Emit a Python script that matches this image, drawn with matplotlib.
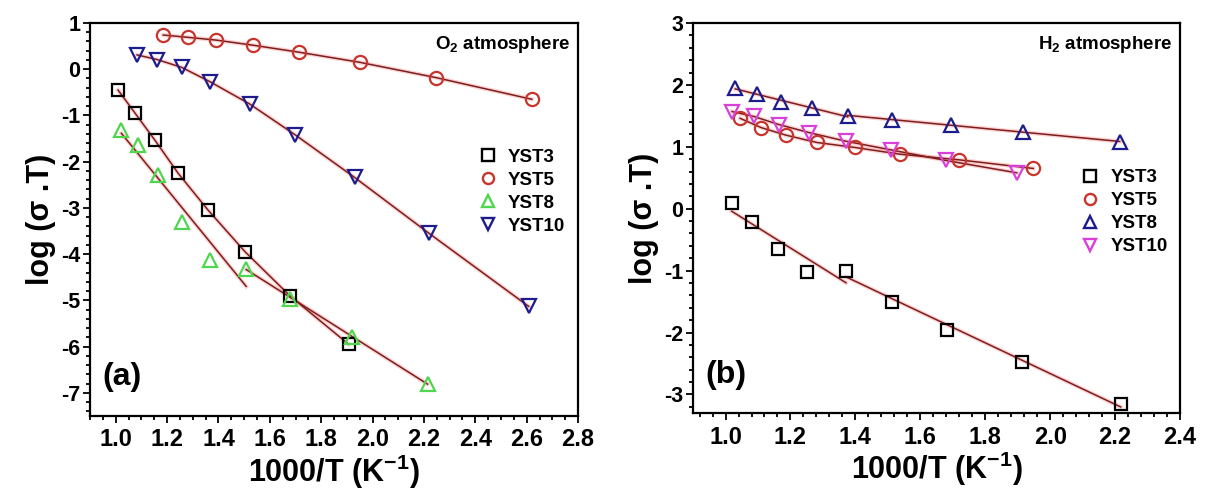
import matplotlib

matplotlib.use("Agg")
import matplotlib.pyplot as plt
import numpy as np
from matplotlib.lines import Line2D
from matplotlib.ticker import MultipleLocator

plt.rcParams["font.family"] = ["Liberation Sans", "DejaVu Sans"]
plt.rcParams["font.weight"] = "bold"
plt.rcParams["axes.labelweight"] = "bold"
plt.rcParams["axes.unicode_minus"] = False
plt.rcParams["mathtext.fontset"] = "custom"
plt.rcParams["mathtext.rm"] = "Liberation Sans:bold"
plt.rcParams["mathtext.bf"] = "Liberation Sans:bold"
plt.rcParams["mathtext.default"] = "bf"

# (a) O2 atmosphere
o2_yst3_x = [1.009, 1.074, 1.152, 1.243, 1.360, 1.504, 1.680, 1.907]
o2_yst3_y = [-0.45, -0.94, -1.53, -2.25, -3.05, -3.95, -4.91, -5.95]
o2_yst5_x = [1.185, 1.282, 1.391, 1.534, 1.712, 1.950, 2.246, 2.620]
o2_yst5_y = [0.74, 0.69, 0.63, 0.52, 0.37, 0.15, -0.18, -0.65]
o2_yst8_x = [1.022, 1.087, 1.165, 1.257, 1.367, 1.508, 1.680, 1.921, 2.214]
o2_yst8_y = [-1.32, -1.64, -2.29, -3.30, -4.13, -4.31, -4.96, -5.79, -6.80]
o2_yst10_x = [1.083, 1.161, 1.257, 1.367, 1.521, 1.699, 1.930, 2.220, 2.608]
o2_yst10_y = [0.31, 0.21, 0.04, -0.27, -0.75, -1.42, -2.34, -3.55, -5.13]

# (b) H2 atmosphere
h2_yst3_x = [1.019, 1.080, 1.161, 1.252, 1.371, 1.512, 1.683, 1.914, 2.217]
h2_yst3_y = [0.10, -0.22, -0.65, -1.02, -1.00, -1.50, -1.96, -2.47, -3.15]
h2_yst5_x = [1.045, 1.110, 1.185, 1.281, 1.398, 1.538, 1.719, 1.948]
h2_yst5_y = [1.46, 1.31, 1.19, 1.07, 0.99, 0.88, 0.79, 0.65]
h2_yst8_x = [1.030, 1.097, 1.172, 1.265, 1.376, 1.513, 1.693, 1.916, 2.214]
h2_yst8_y = [1.95, 1.85, 1.73, 1.62, 1.50, 1.44, 1.36, 1.24, 1.08]
h2_yst10_x = [1.020, 1.087, 1.164, 1.257, 1.371, 1.510, 1.678, 1.897]
h2_yst10_y = [1.57, 1.49, 1.36, 1.23, 1.09, 0.95, 0.78, 0.58]

labels = ["YST3", "YST5", "YST8", "YST10"]

LINE = "#7a1f1f"


def draw_line(ax, x, y):
    ax.plot(x, y, color="#ff3030", lw=3, alpha=0.22, zorder=2)
    ax.plot(x, y, color=LINE, lw=1.1, zorder=3)


def fit_segment(ax, x, y, i0, i1):
    xs = np.asarray(x[i0:i1])
    ys = np.asarray(y[i0:i1])
    k, b = np.polyfit(xs, ys, 1)
    xx = np.array([xs[0], xs[-1]])
    draw_line(ax, xx, k * xx + b)


def points(ax, x, y, marker, color, size):
    ax.plot(x, y, linestyle="none", marker=marker, ms=size, mfc="none",
            mec=color, mew=1.6, zorder=4)


def style_axes(ax, xlim, ylim, xminor, tag, atmos):
    ax.set_xlim(*xlim)
    ax.set_ylim(*ylim)
    ax.xaxis.set_major_locator(MultipleLocator(0.2))
    ax.xaxis.set_minor_locator(MultipleLocator(xminor))
    ax.yaxis.set_major_locator(MultipleLocator(1))
    ax.yaxis.set_minor_locator(MultipleLocator(0.2))
    ax.xaxis.set_major_formatter(plt.FormatStrFormatter("%.1f"))
    ax.tick_params(which="both", direction="out", top=False, right=False,
                   width=1.3)
    ax.tick_params(axis="x", labelsize=17, pad=4)
    ax.tick_params(axis="y", labelsize=15.5, pad=2)
    ax.tick_params(which="major", length=5)
    ax.tick_params(which="minor", length=3)
    for s in ax.spines.values():
        s.set_linewidth(1.6)
    ax.set_xlabel("1000/T (K$^{-1}$)", fontsize=22, fontweight="bold",
                  labelpad=1)
    ax.set_ylabel("log (σ .T)", fontsize=22, fontweight="bold", labelpad=4)
    ax.text(0.025, 0.06, tag, transform=ax.transAxes, fontsize=23,
            fontweight="bold", ha="left", va="bottom")
    ax.text(0.985, 0.945, atmos, transform=ax.transAxes, fontsize=13.5,
            fontweight="bold", ha="right", va="center")


def legend(ax, styles, anchor):
    handles = [Line2D([], [], linestyle="none", marker=m, ms=8, mfc="none",
                      mec=c, mew=1.7) for m, c in styles]
    leg = ax.legend(handles, labels, loc="upper left", bbox_to_anchor=anchor,
                    frameon=False, fontsize=13.5, handlelength=1.0,
                    handletextpad=0.6, labelspacing=0.32, borderaxespad=0)
    for t in leg.get_texts():
        t.set_fontweight("bold")


fig = plt.figure(figsize=(12.07, 5.0), dpi=100)
ax1 = fig.add_axes([0.0746, 0.168, 0.4043, 0.786])
ax2 = fig.add_axes([0.5742, 0.174, 0.4035, 0.780])

# panel (a)
draw_line(ax1, o2_yst3_x, o2_yst3_y)
draw_line(ax1, o2_yst5_x, o2_yst5_y)
draw_line(ax1, o2_yst10_x, o2_yst10_y)
fit_segment(ax1, o2_yst8_x, o2_yst8_y, 0, 6)
fit_segment(ax1, o2_yst8_x, o2_yst8_y, 5, 9)
styles_a = [("s", "black"), ("o", "#c9352c"), ("^", "#4fd64f"), ("v", "#1c1c8c")]
points(ax1, o2_yst3_x, o2_yst3_y, "s", styles_a[0][1], 8.5)
points(ax1, o2_yst5_x, o2_yst5_y, "o", styles_a[1][1], 9.5)
points(ax1, o2_yst8_x, o2_yst8_y, "^", styles_a[2][1], 10)
points(ax1, o2_yst10_x, o2_yst10_y, "v", styles_a[3][1], 10)
style_axes(ax1, (0.9, 2.8), (-7.5, 1), 0.05, "(a)", "O$_2$ atmosphere")
legend(ax1, styles_a, (0.78, 0.70))

# panel (b)
fit_segment(ax2, h2_yst3_x, h2_yst3_y, 0, 5)
fit_segment(ax2, h2_yst3_x, h2_yst3_y, 4, 9)
draw_line(ax2, h2_yst5_x, h2_yst5_y)
draw_line(ax2, h2_yst10_x, h2_yst10_y)
fit_segment(ax2, h2_yst8_x, h2_yst8_y, 0, 5)
fit_segment(ax2, h2_yst8_x, h2_yst8_y, 4, 9)
styles_b = [("s", "black"), ("o", "#c9352c"), ("^", "#1c1c8c"), ("v", "#d940d9")]
points(ax2, h2_yst3_x, h2_yst3_y, "s", styles_b[0][1], 8.5)
points(ax2, h2_yst5_x, h2_yst5_y, "o", styles_b[1][1], 9.5)
points(ax2, h2_yst8_x, h2_yst8_y, "^", styles_b[2][1], 10)
points(ax2, h2_yst10_x, h2_yst10_y, "v", styles_b[3][1], 10)
style_axes(ax2, (0.9, 2.4), (-3.3, 3), 0.04, "(b)", "H$_2$ atmosphere")
legend(ax2, styles_b, (0.78, 0.645))

fig.savefig("out.png", dpi=100)
